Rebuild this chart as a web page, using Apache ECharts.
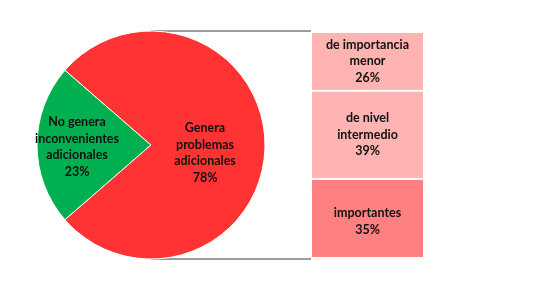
<!DOCTYPE html>
<html><head><meta charset="utf-8">
<script src="https://cdn.jsdelivr.net/npm/echarts@6/dist/echarts.min.js"></script>
<style>html,body{margin:0;padding:0;background:#fff}#c{width:549px;height:291px}</style>
</head><body><div id="c"></div>
<script>
// Data
const pieNames = ['No genera\ninconvenientes\nadicionales', 'Genera\nproblemas\nadicionales'];
const pieValues = [23, 78];
const barNames = ['importantes', 'de nivel\nintermedio', 'de importancia\nmenor'];
const barValues = [35, 39, 26];

// Layout
const cx = 151, cy = 145, R = 114;
const barLeft = 311, barW = 113, barTop = 32, barH = 226;
const pieLabelShift = [[-14, 2], [-6, 8]];

const pieColors = ['#00B050', '#FF3333'];
const barColors = ['#FF8080', '#FFB3B3', '#FFB3B3'];
const font = 'Lato, "Open Sans", sans-serif';

const total = pieValues.reduce((a, b) => a + b, 0);
const half = pieValues[0] / total * 180;

const chart = echarts.init(document.getElementById('c'), null, {renderer: 'canvas'});
chart.setOption({
  animation: false,
  backgroundColor: '#fff',
  grid: {left: barLeft, top: barTop, width: barW, height: barH},
  xAxis: {type: 'category', data: [''], show: false},
  yAxis: {type: 'value', min: 0, max: 100, show: false},
  graphic: [
    {type: 'line', shape: {x1: cx, y1: cy - R, x2: barLeft, y2: cy - R}, style: {stroke: '#3a3a3a', lineWidth: 1}, z: -1},
    {type: 'line', shape: {x1: cx, y1: cy + R, x2: barLeft, y2: cy + R}, style: {stroke: '#3a3a3a', lineWidth: 1}, z: -1}
  ],
  series: [
    {
      type: 'pie',
      center: [cx, cy],
      radius: [0, R],
      startAngle: 180 + half,
      clockwise: true,
      itemStyle: {borderColor: '#fff', borderWidth: 1},
      label: {
        position: 'inside',
        fontFamily: font, fontWeight: 'bold', fontSize: 12.5, color: '#111',
        lineHeight: 16.5, align: 'center',
        formatter: p => p.name + '\n' + p.value + '%'
      },
      labelLayout: p => ({dx: pieLabelShift[p.dataIndex][0], dy: pieLabelShift[p.dataIndex][1]}),
      labelLine: {show: false},
      data: pieValues.map((v, i) => ({
        value: v, name: pieNames[i],
        itemStyle: {color: pieColors[i]}
      }))
    },
    ...barValues.map((v, i) => ({
      type: 'bar',
      stack: 's',
      barWidth: '100%',
      name: barNames[i],
      data: [v],
      itemStyle: {color: barColors[i], borderColor: '#fff', borderWidth: 1},
      label: {
        show: true, position: 'inside',
        fontFamily: font, fontWeight: 'bold', fontSize: 12.5, color: '#111',
        lineHeight: 16.5, align: 'center',
        formatter: p => p.seriesName + '\n' + p.value + '%'
      },
      labelLayout: i === 0 ? {dy: 3} : undefined
    }))
  ]
});
</script>
</body></html>
